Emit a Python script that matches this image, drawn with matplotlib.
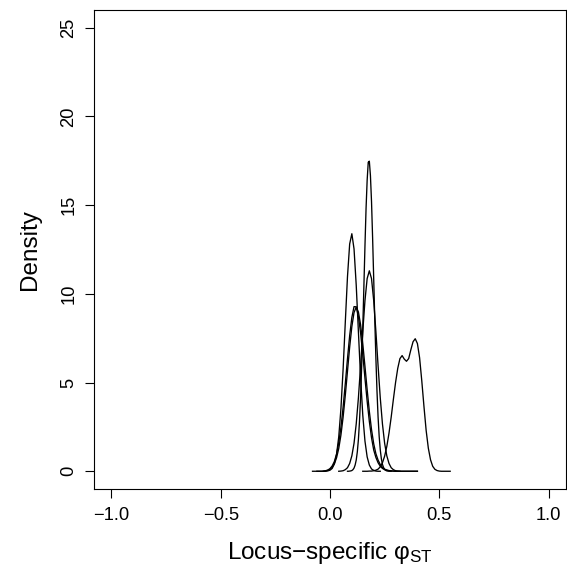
import numpy as np
import matplotlib
matplotlib.use('Agg')
import matplotlib.pyplot as plt

plt.rcParams['font.family'] = ['Liberation Sans', 'DejaVu Sans']
plt.rcParams['mathtext.fontset'] = 'custom'
plt.rcParams['mathtext.rm'] = 'Liberation Sans'
plt.rcParams['mathtext.it'] = 'Liberation Sans:italic'

# Locus-specific phi_ST posterior densities.
# Each curve: first x value, x step, density values.
curve_a_start, curve_a_step = 0.08, 0.005
curve_a = [0.00, 0.00, 0.01, 0.02, 0.04, 0.09, 0.18, 0.35, 0.63, 1.09,
           1.79, 2.82, 4.19, 5.97, 8.07, 10.38, 12.70, 14.81, 16.40, 17.42,
           17.48, 16.67, 15.20, 13.15, 10.85, 8.52, 6.37, 4.53, 3.06, 1.97,
           1.21, 0.71, 0.39, 0.21, 0.10, 0.05, 0.02, 0.01, 0.00, 0.00, 0.00]

curve_b_start, curve_b_step = -0.03, 0.01
curve_b = [0.00, 0.00, 0.02, 0.06, 0.16, 0.42, 0.95, 1.94, 3.53, 5.76,
           8.40, 10.97, 12.81, 13.39, 12.53, 10.49, 7.86, 5.27, 3.16, 1.70,
           0.81, 0.35, 0.13, 0.05, 0.01, 0.00, 0.00]

curve_c_start, curve_c_step = 0.04, 0.01
curve_c = [0.00, 0.01, 0.03, 0.09, 0.20, 0.44, 0.87, 1.58, 2.67, 4.14,
           5.95, 7.88, 9.62, 10.86, 11.30, 10.86, 9.62, 7.88, 5.95, 4.14,
           2.67, 1.58, 0.87, 0.44, 0.20, 0.09, 0.03, 0.01, 0.00]

curve_d1_start, curve_d1_step = -0.08, 0.01
curve_d1 = [0.00, 0.00, 0.00, 0.00, 0.00, 0.01, 0.03, 0.07, 0.15, 0.30,
            0.55, 0.97, 1.60, 2.48, 3.61, 4.94, 6.34, 7.65, 8.67, 9.28,
            9.27, 8.72, 7.79, 6.58, 5.24, 3.95, 2.81, 1.89, 1.20, 0.78,
            0.48, 0.28, 0.16, 0.09, 0.05, 0.03, 0.02, 0.01, 0.00, 0.00,
            0.00, 0.00, 0.00, 0.00, 0.00, 0.00, 0.00, 0.00, 0.00]

curve_d2_start, curve_d2_step = -0.06, 0.01
curve_d2 = [0.00, 0.00, 0.00, 0.00, 0.02, 0.05, 0.11, 0.22, 0.42, 0.76,
            1.28, 2.04, 3.05, 4.28, 5.64, 7.00, 8.16, 8.95, 9.25, 8.98,
            8.26, 7.19, 5.91, 4.60, 3.38, 2.35, 1.55, 0.99, 0.63, 0.38,
            0.22, 0.12, 0.07, 0.04, 0.02, 0.01, 0.00, 0.00, 0.00, 0.00,
            0.00, 0.00, 0.00, 0.00, 0.00, 0.00, 0.00]

curve_e_start, curve_e_step = 0.15, 0.01
curve_e = [0.00, 0.00, 0.00, 0.01, 0.01, 0.03, 0.06, 0.12, 0.25, 0.48,
           0.85, 1.40, 2.15, 3.05, 4.05, 5.00, 5.80, 6.35, 6.52, 6.32,
           6.20, 6.35, 6.85, 7.30, 7.47, 7.20, 6.40, 5.10, 3.65, 2.30,
           1.30, 0.65, 0.28, 0.11, 0.04, 0.01, 0.00, 0.00, 0.00, 0.00, 0.00]

curves = [
    (curve_d1_start, curve_d1_step, curve_d1),
    (curve_d2_start, curve_d2_step, curve_d2),
    (curve_b_start, curve_b_step, curve_b),
    (curve_c_start, curve_c_step, curve_c),
    (curve_a_start, curve_a_step, curve_a),
    (curve_e_start, curve_e_step, curve_e),
]

x_ticks = [-1.0, -0.5, 0.0, 0.5, 1.0]
x_tick_labels = ['\u22121.0', '\u22120.5', '0.0', '0.5', '1.0']
y_ticks = [0, 5, 10, 15, 20, 25]
y_tick_labels = ['0', '5', '10', '15', '20', '25']

W, H = 567, 566
fig = plt.figure(figsize=(W / 100, H / 100), dpi=100)
ax = fig.add_axes([94 / W, 1 - 489 / H, 472 / W, 479 / H])

for start, step, dens in curves:
    dens = np.asarray(dens)
    xs = start + step * np.arange(len(dens))
    ax.plot(xs, dens, color='black', lw=0.95, solid_joinstyle='round')

ax.set_xlim(-1.08, 1.08)
ax.set_ylim(-1.0, 26.0)

ax.set_xticks(x_ticks)
ax.set_xticklabels(x_tick_labels)
ax.set_yticks(y_ticks)
ax.set_yticklabels(y_tick_labels, rotation=90, va='center')

ax.tick_params(direction='out', length=6.5, width=0.8, labelsize=13.2)
ax.tick_params(axis='x', pad=6.5)
ax.tick_params(axis='y', pad=5.5)
for side in ax.spines.values():
    side.set_linewidth(0.8)

fig.text(330 / W, 1 - 558.5 / H, 'Locus\u2212specific \u03c6$_{\\mathrm{ST}}$',
         ha='center', va='baseline', fontsize=17.5)
fig.text(36 / W, 1 - 250 / H, 'Density', rotation=90, rotation_mode='anchor',
         ha='center', va='baseline', fontsize=17.5)

fig.savefig('out.png', dpi=100)
